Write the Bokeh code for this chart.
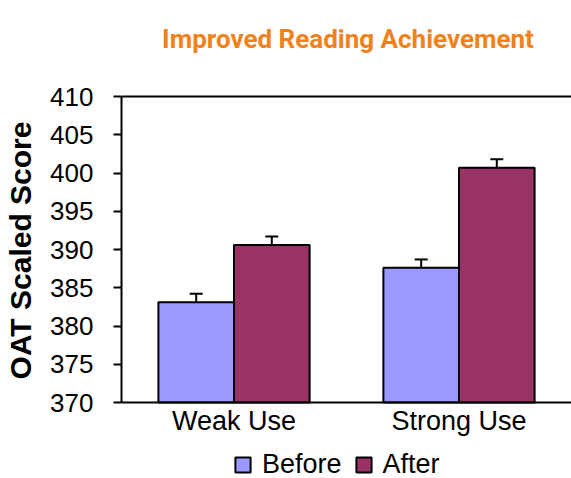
from bokeh.plotting import figure
from bokeh.models import (ColumnDataSource, Range1d, FixedTicker, Whisker, TeeHead,
                          Legend, LegendItem, Span, Label)
from bokeh.embed import file_html
from bokeh.resources import INLINE

# ---- data ----
categories = ["Weak Use", "Strong Use"]
before = [383.1, 387.6]
after = [390.6, 400.7]
before_err = [1.1, 1.1]
after_err = [1.1, 1.1]
y_ticks = [370, 375, 380, 385, 390, 395, 400, 405, 410]
y_min, y_max = 370, 410
title_text = "Improved Reading Achievement"

BAR_W = 0.336
pos = [i + 0.5 for i in range(len(categories))]

src_b = ColumnDataSource(dict(x=[p - BAR_W / 2 for p in pos], top=before,
                              upper=[v + e for v, e in zip(before, before_err)]))
src_a = ColumnDataSource(dict(x=[p + BAR_W / 2 for p in pos], top=after,
                              upper=[v + e for v, e in zip(after, after_err)]))

# frame covers the whole height so that title, x labels and legend sit inside it;
# the value axis is bounded to 370-410
PX_PER_UNIT = 306 / (y_max - y_min)
PAD_TOP_PX, PAD_BOTTOM_PX = 74, 76
FRAME_H = 306 + PAD_TOP_PX + PAD_BOTTOM_PX
p = figure(frame_width=450, frame_height=FRAME_H, output_backend="svg", toolbar_location=None,
           x_range=Range1d(0, 2.0),
           y_range=Range1d(y_min - PAD_BOTTOM_PX / PX_PER_UNIT, y_max + PAD_TOP_PX / PX_PER_UNIT),
           min_border_left=121, min_border_top=22, min_border_right=0, min_border_bottom=0,
           title=None)
p.outline_line_color = None
p.xgrid.visible = False
p.ygrid.visible = False
p.background_fill_color = "white"

p.add_layout(Label(x=226.5, y=FRAME_H - 16, x_units="screen", y_units="screen",
                   text=title_text, text_font="Roboto", text_font_size="26px",
                   text_font_style="bold", text_color="#F0821E",
                   text_align="center", text_baseline="middle"))

rb = p.vbar(x="x", top="top", bottom=y_min, width=BAR_W, source=src_b,
            fill_color="#9999FF", line_color="black", line_width=2)
ra = p.vbar(x="x", top="top", bottom=y_min, width=BAR_W, source=src_a,
            fill_color="#993366", line_color="black", line_width=2)

for src in (src_b, src_a):
    w = Whisker(base="x", lower="top", upper="upper", source=src, dimension="height",
                line_color="black", line_width=2,
                upper_head=TeeHead(size=13, line_color="black", line_width=2),
                lower_head=None)
    p.add_layout(w)

p.add_layout(Span(location=y_max, dimension="width", line_color="black", line_width=2))

# axes
ya = p.yaxis[0]
ya.ticker = FixedTicker(ticks=y_ticks)
ya.bounds = (y_min, y_max)
ya.minor_tick_line_color = None
ya.major_tick_in = 0
ya.major_tick_out = 8
ya.major_tick_line_width = 2
ya.axis_line_width = 2
ya.major_label_text_font = "Liberation Sans"
ya.major_label_text_font_size = "26px"
ya.major_label_text_color = "black"
ya.major_label_standoff = 20
ya.axis_label = "OAT Scaled Score"
ya.axis_label_text_font = "Liberation Sans"
ya.axis_label_text_font_size = "30px"
ya.axis_label_text_font_style = "bold"
ya.axis_label_text_color = "black"
ya.axis_label_standoff = 10

xa = p.xaxis[0]
xa.fixed_location = y_min
xa.ticker = FixedTicker(ticks=pos)
xa.major_label_overrides = {pos[i]: categories[i] for i in range(len(categories))}
xa.major_tick_line_color = None
xa.minor_tick_line_color = None
xa.major_tick_in = 0
xa.major_tick_out = 0
xa.axis_line_width = 2
xa.major_label_text_font = "Liberation Sans"
xa.major_label_text_font_size = "27px"
xa.major_label_text_color = "black"
xa.major_label_standoff = 3

legend = Legend(items=[LegendItem(label="Before", renderers=[rb]),
                       LegendItem(label="After", renderers=[ra])],
                orientation="horizontal", location=(112, -2),
                glyph_width=19, glyph_height=19, label_standoff=10, spacing=12,
                padding=0, margin=0, border_line_color=None, background_fill_alpha=0,
                label_text_font="Liberation Sans", label_text_font_size="27px",
                label_text_color="black")
p.add_layout(legend, "center")

open("out.html", "w").write(file_html(p, INLINE))
